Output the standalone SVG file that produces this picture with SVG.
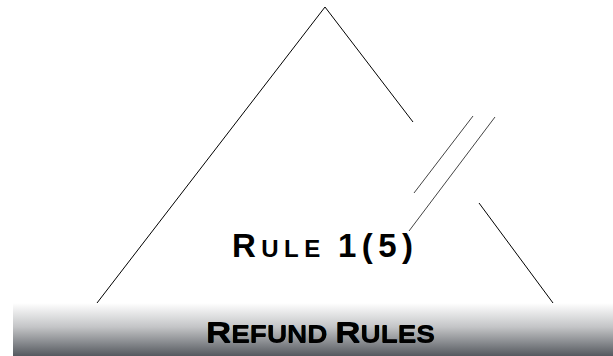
<svg xmlns="http://www.w3.org/2000/svg" width="613" height="356" viewBox="0 0 613 356">
<defs>
<linearGradient id="bar" x1="0" y1="0" x2="0" y2="1">
<stop offset="0" stop-color="#ffffff"/>
<stop offset="0.45" stop-color="#c4c5c7"/>
<stop offset="1" stop-color="#55595f"/>
</linearGradient>
<filter id="sh" x="-5%" y="-20%" width="110%" height="140%">
<feGaussianBlur stdDeviation="0.6"/>
</filter>
</defs>
<style>
.ln{stroke:#000;stroke-width:1;fill:none}
.dl{stroke:#444;stroke-width:1;fill:none}
.t{font-family:"Liberation Sans",Arial,sans-serif;font-weight:bold;fill:#000}
</style>
<rect width="613" height="356" fill="#fff"/>
<g id="connectors">
<polyline class="ln" points="97,303 325,7 413,122"/>
<line class="ln" x1="479" y1="203" x2="553" y2="303"/>
<line class="dl" x1="473" y1="116" x2="414" y2="193"/>
<line class="dl" x1="495" y1="117" x2="409" y2="231"/>
</g>
<g id="rule">
<text class="t" x="232" y="257" textLength="181" lengthAdjust="spacing"><tspan font-size="33">R</tspan><tspan font-size="24">ULE </tspan><tspan font-size="33">1(5)</tspan></text>
</g>
<g id="refund-rules">
<rect x="13" y="303" width="600" height="53" fill="url(#bar)"/>
<text class="t" x="206" y="343" textLength="229" lengthAdjust="spacingAndGlyphs" filter="url(#sh)" fill="#000"><tspan font-size="30">R</tspan><tspan font-size="24">EFUND </tspan><tspan font-size="30">R</tspan><tspan font-size="24">ULES</tspan></text>
<text class="t" x="206" y="342" textLength="229" lengthAdjust="spacingAndGlyphs"><tspan font-size="30">R</tspan><tspan font-size="24">EFUND </tspan><tspan font-size="30">R</tspan><tspan font-size="24">ULES</tspan></text>
</g>
</svg>
